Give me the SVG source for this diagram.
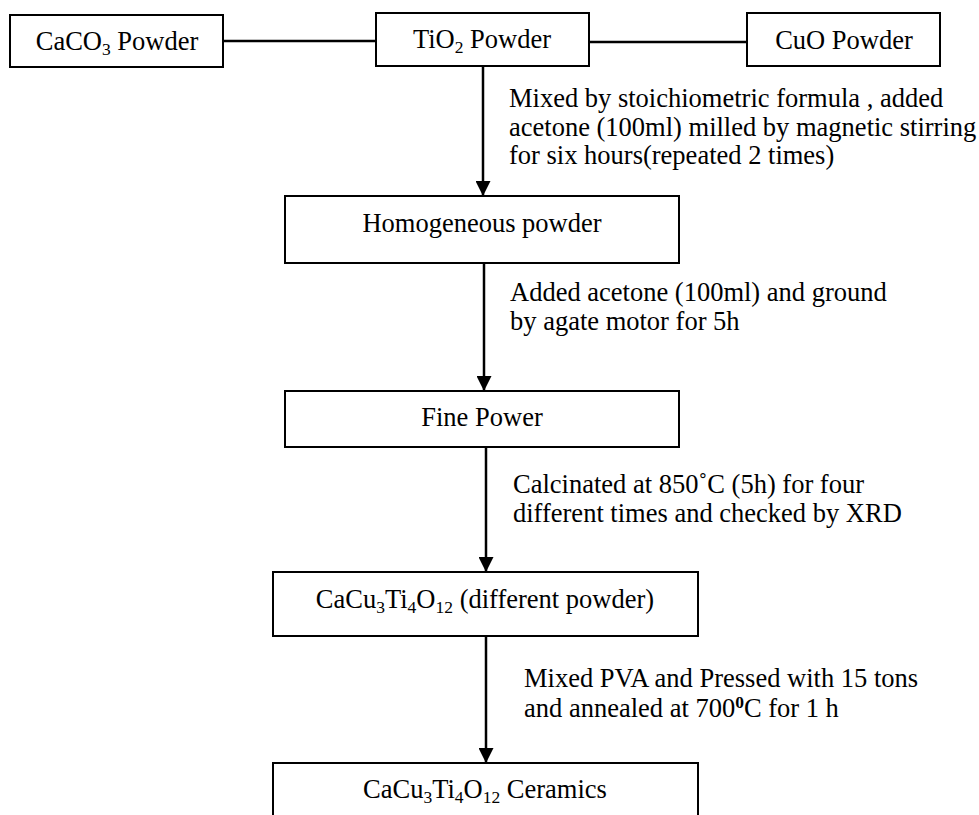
<svg xmlns="http://www.w3.org/2000/svg" width="979" height="815" viewBox="0 0 979 815">
<style>
.box{fill:#fff;stroke:#000;stroke-width:2}
.t{font-family:"Liberation Serif","Times New Roman",serif;font-size:26.5px;fill:#000}
.c{text-anchor:middle}
.sub{font-size:17.5px}
.ln{stroke:#000;stroke-width:2.5;fill:none}
</style>
<defs>
<marker id="ah" markerUnits="userSpaceOnUse" markerWidth="16" markerHeight="15" refX="15" refY="7.5" orient="auto">
<path d="M0,0 L15,7.5 L0,15 Z" fill="#000"/>
</marker>
</defs>
<g id="connectors">
<line class="ln" x1="223" y1="41" x2="376" y2="41"/>
<line class="ln" x1="589" y1="42" x2="747" y2="42"/>
<line class="ln" x1="483" y1="66" x2="483" y2="196" marker-end="url(#ah)"/>
<line class="ln" x1="484" y1="263" x2="484" y2="391" marker-end="url(#ah)"/>
<line class="ln" x1="486" y1="447" x2="486" y2="572" marker-end="url(#ah)"/>
<line class="ln" x1="486" y1="636" x2="486" y2="763" marker-end="url(#ah)"/>
</g>
<g id="n-caco3">
<rect class="box" x="10" y="15" width="213" height="52"/>
<text class="t c" x="117" y="50">CaCO<tspan class="sub" dy="5">3</tspan><tspan dy="-5"> Powder</tspan></text>
</g>
<g id="n-tio2">
<rect class="box" x="376" y="13" width="213" height="53"/>
<text class="t c" x="482" y="48">TiO<tspan class="sub" dy="5">2</tspan><tspan dy="-5"> Powder</tspan></text>
</g>
<g id="n-cuo">
<rect class="box" x="747" y="13" width="193" height="53"/>
<text class="t c" x="844" y="49">CuO Powder</text>
</g>
<g id="n-homog">
<rect class="box" x="285" y="196" width="394" height="67"/>
<text class="t c" x="482" y="232">Homogeneous powder</text>
</g>
<g id="n-fine">
<rect class="box" x="285" y="391" width="394" height="56"/>
<text class="t c" x="482" y="426">Fine Power</text>
</g>
<g id="n-cctopowder">
<rect class="box" x="273" y="572" width="425" height="64"/>
<text class="t c" x="485" y="608">CaCu<tspan class="sub" dy="5">3</tspan><tspan dy="-5">Ti</tspan><tspan class="sub" dy="5">4</tspan><tspan dy="-5">O</tspan><tspan class="sub" dy="5">12</tspan><tspan dy="-5"> (different powder)</tspan></text>
</g>
<g id="n-ceramics">
<rect class="box" x="273" y="763" width="425" height="70"/>
<text class="t c" x="485" y="798">CaCu<tspan class="sub" dy="5">3</tspan><tspan dy="-5">Ti</tspan><tspan class="sub" dy="5">4</tspan><tspan dy="-5">O</tspan><tspan class="sub" dy="5">12</tspan><tspan dy="-5"> Ceramics</tspan></text>
</g>
<g id="labels">
<text class="t" x="509" y="107">Mixed by stoichiometric formula , added</text>
<text class="t" x="509" y="136">acetone (100ml) milled by magnetic stirring</text>
<text class="t" x="509" y="164">for six hours(repeated 2 times)</text>
<text class="t" x="510" y="301">Added acetone (100ml) and ground</text>
<text class="t" x="510" y="330">by agate motor for 5h</text>
<text class="t" x="513" y="493">Calcinated at 850˚C (5h) for four</text>
<text class="t" x="513" y="522">different times and checked by XRD</text>
<text class="t" x="524" y="687">Mixed PVA and Pressed with 15 tons</text>
<text class="t" x="524" y="717">and annealed at 700<tspan class="sub" font-weight="bold" dy="-9">0</tspan><tspan dy="9">C for 1 h</tspan></text>
</g>
</svg>
